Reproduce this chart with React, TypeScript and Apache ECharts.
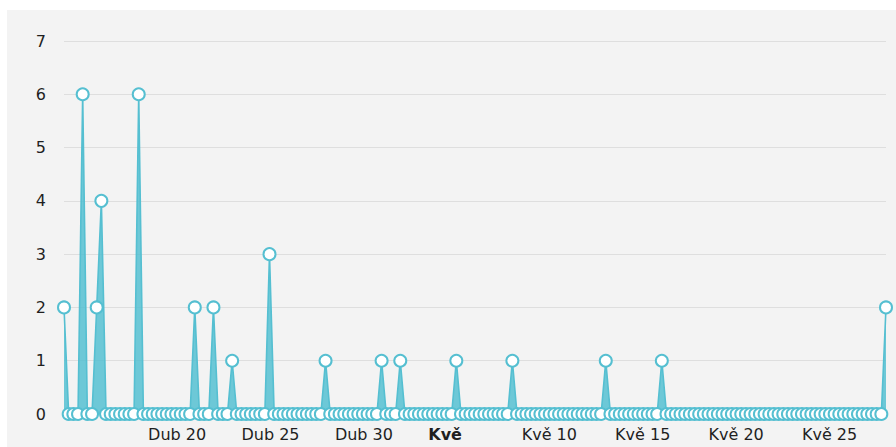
import React, { useEffect, useRef } from "react";
import * as echarts from "echarts";

// 6-hourly samples, starting Dub 15 12:00 (x in day-of-April units; May d = 30 + d)
const START_DAY = 15.5;
const STEP_DAY = 0.25;

const values: number[] = [
  2, 0, 0, 0, 6, 0, 0, 2, 4, 0, 0, 0, 0, 0, 0, 0, 6, 0, 0, 0,
  0, 0, 0, 0, 0, 0, 0, 0, 2, 0, 0, 0, 2, 0, 0, 0, 1, 0, 0, 0,
  0, 0, 0, 0, 3, 0, 0, 0, 0, 0, 0, 0, 0, 0, 0, 0, 1, 0, 0, 0,
  0, 0, 0, 0, 0, 0, 0, 0, 1, 0, 0, 0, 1, 0, 0, 0, 0, 0, 0, 0,
  0, 0, 0, 0, 1, 0, 0, 0, 0, 0, 0, 0, 0, 0, 0, 0, 1, 0, 0, 0,
  0, 0, 0, 0, 0, 0, 0, 0, 0, 0, 0, 0, 0, 0, 0, 0, 1, 0, 0, 0,
  0, 0, 0, 0, 0, 0, 0, 0, 1, 0, 0, 0, 0, 0, 0, 0, 0, 0, 0, 0,
  0, 0, 0, 0, 0, 0, 0, 0, 0, 0, 0, 0, 0, 0, 0, 0, 0, 0, 0, 0,
  0, 0, 0, 0, 0, 0, 0, 0, 0, 0, 0, 0, 0, 0, 0, 0, 2,
];

const tickDays: number[] = [20, 25, 30, 35, 40, 45, 50, 55];
const tickLabels: string[] = ["Dub 20", "Dub 25", "Dub 30", "{b|Kvě}", "Kvě 10", "Kvě 15", "Kvě 20", "Kvě 25"];
const yTicks: number[] = [0, 1, 2, 3, 4, 5, 6, 7];

export default function App() {
  const ref = useRef<HTMLDivElement>(null);
  useEffect(() => {
    if (!ref.current) return;
    const chart = echarts.init(ref.current, null, { renderer: "svg" });
    const data = values.map((v, i) => [START_DAY + i * STEP_DAY, v]);
    const color = "#55bfd1";
    chart.setOption({
      animation: false,
      backgroundColor: "#f3f3f3",
      grid: { left: 57, right: 10, top: 31, bottom: 33, containLabel: false },
      xAxis: {
        type: "value",
        min: START_DAY,
        max: START_DAY + (values.length - 1) * STEP_DAY,
        axisLine: { show: false },
        axisTick: { show: false },
        splitLine: { show: false },
        axisLabel: {
          customValues: tickDays,
          align: "left",
          margin: 12,
          fontSize: 16,
          fontFamily: "DejaVu Sans",
          color: "#1f1f1f",
          formatter: (v: number) => {
            const k = tickDays.indexOf(Math.round(v));
            return k >= 0 ? tickLabels[k] : "";
          },
          rich: { b: { fontWeight: "bold", fontSize: 16, fontFamily: "DejaVu Sans", color: "#1f1f1f" } },
        },
      },
      yAxis: {
        type: "value",
        min: yTicks[0],
        max: yTicks[yTicks.length - 1],
        interval: 1,
        axisLine: { show: false },
        axisTick: { show: false },
        splitLine: { show: true, lineStyle: { color: "#dedede", width: 1 } },
        axisLabel: { margin: 18, fontSize: 16, fontFamily: "DejaVu Sans", color: "#1f1f1f" },
      },
      series: [
        {
          type: "line",
          data,
          symbol: "circle",
          symbolSize: 12,
          showAllSymbol: true,
          lineStyle: { color, width: 1.6 },
          itemStyle: { color: "#ffffff", borderColor: color, borderWidth: 2 },
          areaStyle: { color, opacity: 0.85 },
        },
      ],
    });
    return () => chart.dispose();
  }, []);
  return (
    <div
      ref={ref}
      style={{ position: "absolute", left: 7, top: 10, width: 889, height: 437 }}
    />
  );
}
